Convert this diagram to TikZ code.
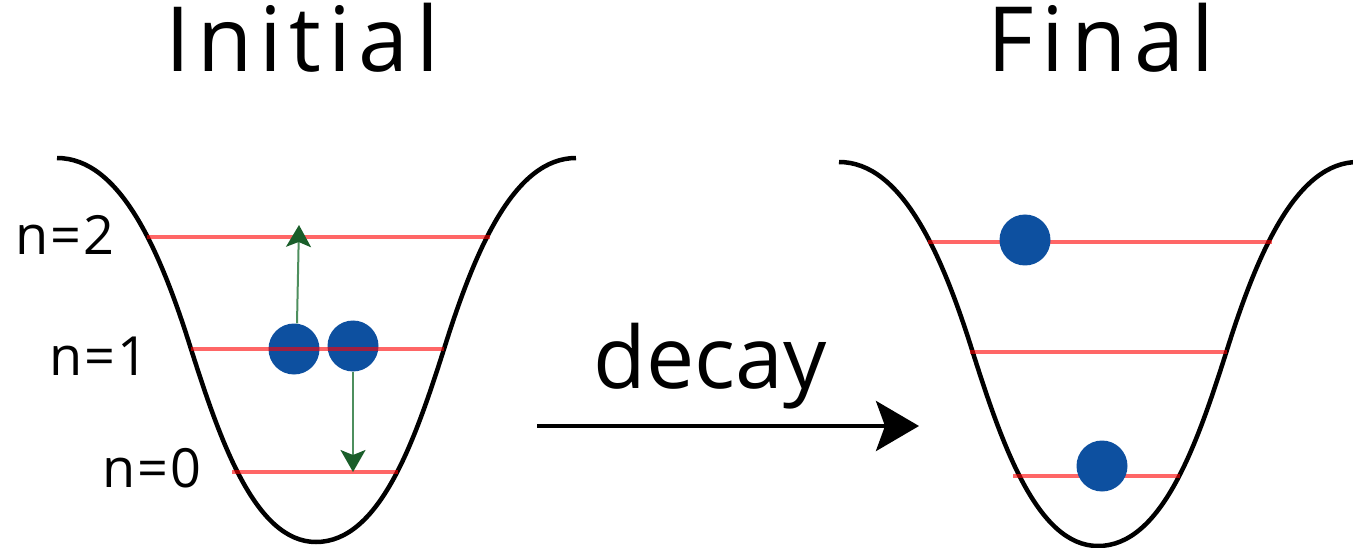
\documentclass[tikz,border=0pt]{standalone}
\usepackage{fontspec}
\setmainfont{Open Sans}
\newfontfamily\titlefont[LetterSpace=8]{Open Sans}
\newfontfamily\labelfont[LetterSpace=4]{Open Sans}
\usetikzlibrary{arrows.meta}
\definecolor{dotblue}{HTML}{0D50A0}
\definecolor{arrowgreen}{HTML}{4E8F5E}
\definecolor{headgreen}{HTML}{1A5E2A}
\begin{document}
\begin{tikzpicture}[x=1pt,y=-1pt,
  well/.style={line width=4.5pt, black},
  levelline/.style={red, draw opacity=0.6, line width=3.2pt},
  dot/.style={circle, fill=dotblue, inner sep=0pt, minimum size=51pt},
  trans/.style={arrowgreen, line width=2pt, -{Stealth[length=22pt,width=25pt,inset=5pt,color=headgreen]}},
  decayarrow/.style={black, line width=4pt, -{Stealth[length=43pt,width=50pt,inset=9pt]}},
  titletext/.style={font=\titlefont\fontsize{90}{96}\selectfont, inner sep=0pt, anchor=base},
  nlabel/.style={font=\labelfont\fontsize{54}{60}\selectfont, inner sep=0pt, anchor=base},
  decaytext/.style={font=\fontsize{86}{92}\selectfont, inner sep=0pt, anchor=base}]
\useasboundingbox (0,0) rectangle (1353,548);

% titles
\node[titletext] (initial) at (302,72) {Initial};
\node[titletext] (final) at (1101,72) {Final};

% left well
\draw[well] (57,158) .. controls (120,158) and (160,250) .. (191,349)
  .. controls (220,440) and (255,542) .. (316,542)
  .. controls (380,542) and (415,440) .. (444,349)
  .. controls (475,250) and (514,158) .. (576,158);

% left dots
\node[dot] (d1) at (294,349) {};
\node[dot] (d2) at (353,346) {};

% left levels
\coordinate (L2a) at (147,237); \coordinate (L2b) at (490,237);
\coordinate (L1a) at (191,349); \coordinate (L1b) at (444,349);
\coordinate (L0a) at (232,472); \coordinate (L0b) at (398,472);
\draw[levelline] (L2a) -- (L2b);
\draw[levelline] (L1a) -- (L1b);
\draw[levelline] (L0a) -- (L0b);

% transitions
\coordinate (up) at (299,225);
\coordinate (down) at (353,472);
\draw[trans] ([xshift=3pt]d1.north) -- (up);
\draw[trans] (d2.south) -- (down);

% labels
\node[nlabel] (n2) at (65,255) {n=2};
\node[nlabel] (n1) at (99,375) {n=1};
\node[nlabel] (n0) at (152,487) {n=0};

% decay
\node[decaytext] (decay) at (710,388) {decay};
\coordinate (ds) at (537,426);
\coordinate (de) at (919,426);
\draw[decayarrow] (ds) -- (de);

% right well
\begin{scope}[shift={(782,4)}]
\draw[well] (57,158) .. controls (120,158) and (160,250) .. (191,349)
  .. controls (220,440) and (255,542) .. (316,542)
  .. controls (380,542) and (415,440) .. (444,349)
  .. controls (475,250) and (514,158) .. (576,158);
\end{scope}
\coordinate (R2a) at (928,242); \coordinate (R2b) at (1272,242);
\coordinate (R1a) at (970,352); \coordinate (R1b) at (1227,352);
\coordinate (R0a) at (1013,476); \coordinate (R0b) at (1180,476);
\draw[levelline] (R2a) -- (R2b);
\draw[levelline] (R1a) -- (R1b);
\draw[levelline] (R0a) -- (R0b);
\node[dot] (r1) at (1025,240) {};
\node[dot] (r2) at (1102,466) {};
\end{tikzpicture}
\end{document}
